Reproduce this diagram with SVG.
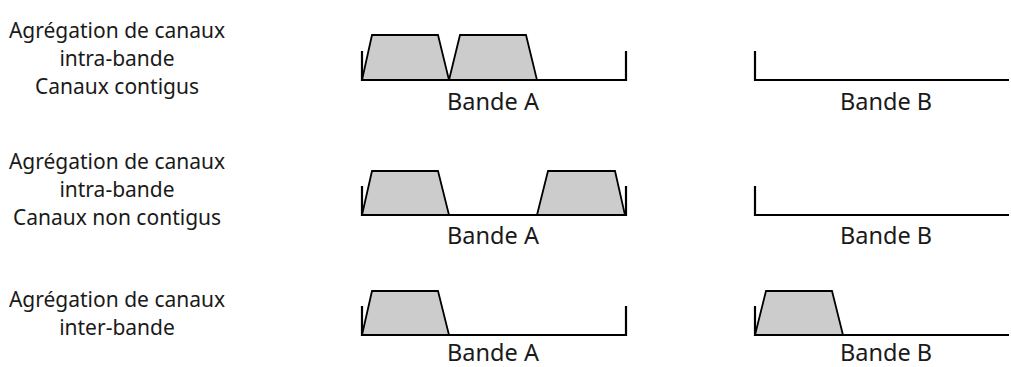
<svg xmlns="http://www.w3.org/2000/svg" width="1011" height="367" viewBox="0 0 1011 367">
<style>
text{font-family:"Noto Sans","DejaVu Sans",sans-serif;fill:#1a1a1a}
.lbl{font-size:21px;text-anchor:middle}
.band{font-size:23.5px;text-anchor:middle}
.axis{fill:none;stroke:#000;stroke-width:2.2;stroke-linejoin:miter}
.ch{fill:#cccccc;stroke:#000;stroke-width:1.8;stroke-linejoin:miter}
</style>
<rect width="1011" height="367" fill="#fff"/>
<g id="row1-label">
<text class="lbl" x="117" y="38">Agrégation de canaux</text>
<text class="lbl" x="117" y="66">intra-bande</text>
<text class="lbl" x="117" y="94">Canaux contigus</text>
</g>
<g id="row1-bandA">
<polygon class="ch" points="362,80 372,35 438,35 449,80"/>
<polygon class="ch" points="449,80 460,35 526,35 537,80"/>
<polyline class="axis" points="362,51 362,80 626,80 626,51"/>
<text class="band" x="493" y="110">Bande A</text>
</g>
<g id="row1-bandB">
<polyline class="axis" points="755,51 755,80 1009,80"/>
<text class="band" x="886" y="110">Bande B</text>
</g>
<g id="row2-label">
<text class="lbl" x="117" y="169">Agrégation de canaux</text>
<text class="lbl" x="117" y="197">intra-bande</text>
<text class="lbl" x="117" y="225">Canaux non contigus</text>
</g>
<g id="row2-bandA">
<polygon class="ch" points="362,215 372,171 438,171 449,215"/>
<polygon class="ch" points="537,215 548,171 615,171 625,215"/>
<polyline class="axis" points="362,186 362,215 626,215 626,186"/>
<text class="band" x="493" y="244">Bande A</text>
</g>
<g id="row2-bandB">
<polyline class="axis" points="755,186 755,215 1009,215"/>
<text class="band" x="886" y="244">Bande B</text>
</g>
<g id="row3-label">
<text class="lbl" x="117" y="307">Agrégation de canaux</text>
<text class="lbl" x="117" y="335">inter-bande</text>
</g>
<g id="row3-bandA">
<polygon class="ch" points="362,335 372,291 438,291 449,335"/>
<polyline class="axis" points="362,306 362,335 626,335 626,306"/>
<text class="band" x="493" y="361">Bande A</text>
</g>
<g id="row3-bandB">
<polygon class="ch" points="755,335 766,291 832,291 843,335"/>
<polyline class="axis" points="755,306 755,335 1009,335"/>
<text class="band" x="886" y="361">Bande B</text>
</g>
<g id="connectors"/>
</svg>
